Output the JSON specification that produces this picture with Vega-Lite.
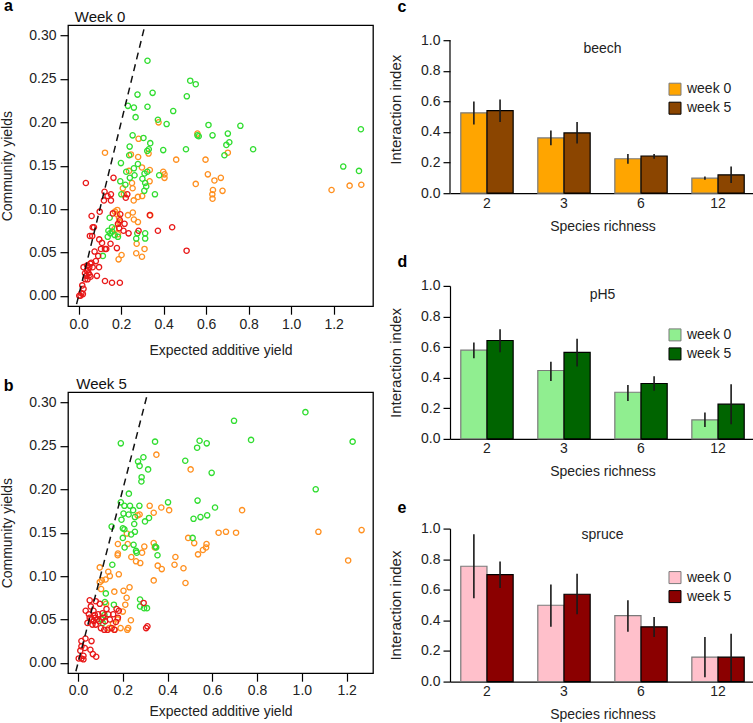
{
"$schema": "https://vega.github.io/schema/vega-lite/v6.json",
"padding": {"top": -2.8, "left": 0, "right": 0, "bottom": 0},
"background": "white",
"config": {
  "font": "Liberation Sans",
  "view": {"stroke": null},
  "axis": {"labelFont": "Liberation Sans", "titleFont": "Liberation Sans", "labelFontSize": 14, "titleFontSize": 14, "labelColor": "#222", "titleColor": "#222", "titleFontWeight": "normal", "grid": false, "domainColor": "#000", "tickColor": "#000", "domainWidth": 1.2, "tickWidth": 1.2, "labelOverlap": false, "tickCount": 12},
  "title": {"font": "Liberation Sans", "fontSize": 16, "fontWeight": "bold", "color": "#000", "anchor": "start", "frame": "bounds", "baseline": "alphabetic"},
  "legend": {"orient": "none", "legendX": 218, "legendY": 42, "title": null, "symbolType": "square", "symbolSize": 144, "labelFontSize": 14, "labelFont": "Liberation Sans", "labelColor": "#222", "rowPadding": 3, "labelOffset": 5, "symbolStrokeWidth": 1, "symbolStrokeColor": "#000"}
},
"datasets": {
  "week0": [
    {"substrate":"beech","expected":0.376,"community":0.200},{"substrate":"beech","expected":0.559,"community":0.187},{"substrate":"beech","expected":0.282,"community":0.181},{"substrate":"beech","expected":0.702,"community":0.165},{"substrate":"beech","expected":0.124,"community":0.165},{"substrate":"beech","expected":0.329,"community":0.164},{"substrate":"beech","expected":0.246,"community":0.163},{"substrate":"beech","expected":0.459,"community":0.157},{"substrate":"beech","expected":0.597,"community":0.157},{"substrate":"beech","expected":0.280,"community":0.160},{"substrate":"beech","expected":0.298,"community":0.148},{"substrate":"beech","expected":0.335,"community":0.145},{"substrate":"beech","expected":0.237,"community":0.144},{"substrate":"beech","expected":0.398,"community":0.143},{"substrate":"beech","expected":0.404,"community":0.140},{"substrate":"beech","expected":0.608,"community":0.140},{"substrate":"beech","expected":0.404,"community":0.136},{"substrate":"beech","expected":0.669,"community":0.136},{"substrate":"beech","expected":0.639,"community":0.133},{"substrate":"beech","expected":0.551,"community":0.129},{"substrate":"beech","expected":0.334,"community":0.132},{"substrate":"beech","expected":0.251,"community":0.130},{"substrate":"beech","expected":0.208,"community":0.124},{"substrate":"beech","expected":0.254,"community":0.124},{"substrate":"beech","expected":0.632,"community":0.122},{"substrate":"beech","expected":0.677,"community":0.121},{"substrate":"beech","expected":0.629,"community":0.117},{"substrate":"beech","expected":0.630,"community":0.112},{"substrate":"beech","expected":1.190,"community":0.122},{"substrate":"beech","expected":1.275,"community":0.127},{"substrate":"beech","expected":1.330,"community":0.128},{"substrate":"beech","expected":0.299,"community":0.115},{"substrate":"beech","expected":0.259,"community":0.110},{"substrate":"beech","expected":0.279,"community":0.114},{"substrate":"beech","expected":0.182,"community":0.099},{"substrate":"beech","expected":0.180,"community":0.094},{"substrate":"beech","expected":0.255,"community":0.096},{"substrate":"beech","expected":0.337,"community":0.093},{"substrate":"beech","expected":0.260,"community":0.088},{"substrate":"beech","expected":0.279,"community":0.085},{"substrate":"beech","expected":0.191,"community":0.085},{"substrate":"beech","expected":0.185,"community":0.071},{"substrate":"beech","expected":0.273,"community":0.060},{"substrate":"beech","expected":0.310,"community":0.054},{"substrate":"beech","expected":0.271,"community":0.049},{"substrate":"beech","expected":0.298,"community":0.045},{"substrate":"beech","expected":0.202,"community":0.047},{"substrate":"beech","expected":0.188,"community":0.042},{"substrate":"beech","expected":0.169,"community":0.077},{"substrate":"beech","expected":0.213,"community":0.117},{"substrate":"beech","expected":0.190,"community":0.090},{"substrate":"beech","expected":0.232,"community":0.093},{"substrate":"beech","expected":0.171,"community":0.097},
    {"substrate":"pH5","expected":0.324,"community":0.271},{"substrate":"pH5","expected":0.525,"community":0.248},{"substrate":"pH5","expected":0.551,"community":0.244},{"substrate":"pH5","expected":0.348,"community":0.234},{"substrate":"pH5","expected":0.277,"community":0.232},{"substrate":"pH5","expected":0.232,"community":0.219},{"substrate":"pH5","expected":0.260,"community":0.217},{"substrate":"pH5","expected":0.324,"community":0.218},{"substrate":"pH5","expected":0.445,"community":0.213},{"substrate":"pH5","expected":0.509,"community":0.230},{"substrate":"pH5","expected":0.268,"community":0.206},{"substrate":"pH5","expected":0.373,"community":0.203},{"substrate":"pH5","expected":0.414,"community":0.198},{"substrate":"pH5","expected":0.611,"community":0.197},{"substrate":"pH5","expected":0.761,"community":0.196},{"substrate":"pH5","expected":0.702,"community":0.187},{"substrate":"pH5","expected":0.630,"community":0.185},{"substrate":"pH5","expected":0.559,"community":0.185},{"substrate":"pH5","expected":0.565,"community":0.184},{"substrate":"pH5","expected":1.328,"community":0.192},{"substrate":"pH5","expected":0.254,"community":0.185},{"substrate":"pH5","expected":0.305,"community":0.182},{"substrate":"pH5","expected":0.709,"community":0.177},{"substrate":"pH5","expected":0.695,"community":0.174},{"substrate":"pH5","expected":0.337,"community":0.176},{"substrate":"pH5","expected":0.240,"community":0.172},{"substrate":"pH5","expected":0.398,"community":0.168},{"substrate":"pH5","expected":0.505,"community":0.169},{"substrate":"pH5","expected":0.821,"community":0.169},{"substrate":"pH5","expected":0.323,"community":0.167},{"substrate":"pH5","expected":0.330,"community":0.169},{"substrate":"pH5","expected":0.686,"community":0.162},{"substrate":"pH5","expected":0.238,"community":0.162},{"substrate":"pH5","expected":0.199,"community":0.153},{"substrate":"pH5","expected":0.279,"community":0.152},{"substrate":"pH5","expected":0.260,"community":0.147},{"substrate":"pH5","expected":1.245,"community":0.149},{"substrate":"pH5","expected":1.319,"community":0.144},{"substrate":"pH5","expected":0.224,"community":0.143},{"substrate":"pH5","expected":0.310,"community":0.141},{"substrate":"pH5","expected":0.323,"community":0.143},{"substrate":"pH5","expected":0.379,"community":0.139},{"substrate":"pH5","expected":0.196,"community":0.132},{"substrate":"pH5","expected":0.241,"community":0.136},{"substrate":"pH5","expected":0.263,"community":0.139},{"substrate":"pH5","expected":0.313,"community":0.130},{"substrate":"pH5","expected":0.309,"community":0.121},{"substrate":"pH5","expected":0.359,"community":0.117},{"substrate":"pH5","expected":0.201,"community":0.117},{"substrate":"pH5","expected":0.146,"community":0.090},{"substrate":"pH5","expected":0.157,"community":0.079},{"substrate":"pH5","expected":0.140,"community":0.075},{"substrate":"pH5","expected":0.148,"community":0.072},{"substrate":"pH5","expected":0.170,"community":0.070},{"substrate":"pH5","expected":0.137,"community":0.068},{"substrate":"pH5","expected":0.185,"community":0.068},{"substrate":"pH5","expected":0.158,"community":0.074},{"substrate":"pH5","expected":0.276,"community":0.072},{"substrate":"pH5","expected":0.313,"community":0.072},{"substrate":"pH5","expected":0.313,"community":0.066},{"substrate":"pH5","expected":0.271,"community":0.066},{"substrate":"pH5","expected":0.114,"community":0.046},{"substrate":"pH5","expected":0.300,"community":0.135},{"substrate":"pH5","expected":0.318,"community":0.126},{"substrate":"pH5","expected":0.220,"community":0.128},
    {"substrate":"spruce","expected":0.034,"community":0.130},{"substrate":"spruce","expected":0.164,"community":0.136},{"substrate":"spruce","expected":0.122,"community":0.120},{"substrate":"spruce","expected":0.152,"community":0.117},{"substrate":"spruce","expected":0.229,"community":0.117},{"substrate":"spruce","expected":0.222,"community":0.113},{"substrate":"spruce","expected":0.119,"community":0.110},{"substrate":"spruce","expected":0.152,"community":0.110},{"substrate":"spruce","expected":0.136,"community":0.115},{"substrate":"spruce","expected":0.099,"community":0.097},{"substrate":"spruce","expected":0.061,"community":0.092},{"substrate":"spruce","expected":0.161,"community":0.095},{"substrate":"spruce","expected":0.196,"community":0.094},{"substrate":"spruce","expected":0.335,"community":0.093},{"substrate":"spruce","expected":0.194,"community":0.087},{"substrate":"spruce","expected":0.066,"community":0.079},{"substrate":"spruce","expected":0.072,"community":0.079},{"substrate":"spruce","expected":0.053,"community":0.069},{"substrate":"spruce","expected":0.064,"community":0.069},{"substrate":"spruce","expected":0.185,"community":0.083},{"substrate":"spruce","expected":0.216,"community":0.083},{"substrate":"spruce","expected":0.211,"community":0.075},{"substrate":"spruce","expected":0.235,"community":0.072},{"substrate":"spruce","expected":0.282,"community":0.075},{"substrate":"spruce","expected":0.373,"community":0.075},{"substrate":"spruce","expected":0.440,"community":0.079},{"substrate":"spruce","expected":0.191,"community":0.078},{"substrate":"spruce","expected":0.097,"community":0.065},{"substrate":"spruce","expected":0.110,"community":0.061},{"substrate":"spruce","expected":0.105,"community":0.054},{"substrate":"spruce","expected":0.130,"community":0.054},{"substrate":"spruce","expected":0.180,"community":0.055},{"substrate":"spruce","expected":0.150,"community":0.060},{"substrate":"spruce","expected":0.508,"community":0.052},{"substrate":"spruce","expected":0.075,"community":0.051},{"substrate":"spruce","expected":0.092,"community":0.046},{"substrate":"spruce","expected":0.124,"community":0.054},{"substrate":"spruce","expected":0.081,"community":0.040},{"substrate":"spruce","expected":0.060,"community":0.038},{"substrate":"spruce","expected":0.050,"community":0.033},{"substrate":"spruce","expected":0.066,"community":0.033},{"substrate":"spruce","expected":0.096,"community":0.033},{"substrate":"spruce","expected":0.023,"community":0.033},{"substrate":"spruce","expected":0.039,"community":0.029},{"substrate":"spruce","expected":0.030,"community":0.026},{"substrate":"spruce","expected":0.047,"community":0.026},{"substrate":"spruce","expected":0.056,"community":0.022},{"substrate":"spruce","expected":0.086,"community":0.023},{"substrate":"spruce","expected":0.042,"community":0.019},{"substrate":"spruce","expected":0.124,"community":0.017},{"substrate":"spruce","expected":0.157,"community":0.015},{"substrate":"spruce","expected":0.194,"community":0.015},{"substrate":"spruce","expected":0.017,"community":0.012},{"substrate":"spruce","expected":0.023,"community":0.008},{"substrate":"spruce","expected":0.013,"community":0.003},{"substrate":"spruce","expected":0.003,"community":0.000},{"substrate":"spruce","expected":0.009,"community":0.000},{"substrate":"spruce","expected":0.020,"community":0.002},{"substrate":"spruce","expected":0.031,"community":0.019},{"substrate":"spruce","expected":0.055,"community":0.037},{"substrate":"spruce","expected":0.036,"community":0.023},{"substrate":"spruce","expected":0.045,"community":0.030},{"substrate":"spruce","expected":0.052,"community":0.024},{"substrate":"spruce","expected":0.040,"community":0.035}
  ],
  "week5": [
    {"substrate":"beech","expected":0.350,"community":0.240},{"substrate":"beech","expected":0.503,"community":0.223},{"substrate":"beech","expected":0.733,"community":0.176},{"substrate":"beech","expected":0.320,"community":0.181},{"substrate":"beech","expected":0.372,"community":0.179},{"substrate":"beech","expected":0.407,"community":0.176},{"substrate":"beech","expected":0.338,"community":0.173},{"substrate":"beech","expected":0.275,"community":0.171},{"substrate":"beech","expected":0.266,"community":0.170},{"substrate":"beech","expected":1.267,"community":0.153},{"substrate":"beech","expected":1.074,"community":0.151},{"substrate":"beech","expected":0.628,"community":0.150},{"substrate":"beech","expected":0.661,"community":0.151},{"substrate":"beech","expected":0.706,"community":0.150},{"substrate":"beech","expected":0.218,"community":0.149},{"substrate":"beech","expected":0.492,"community":0.144},{"substrate":"beech","expected":0.519,"community":0.138},{"substrate":"beech","expected":0.574,"community":0.137},{"substrate":"beech","expected":0.572,"community":0.133},{"substrate":"beech","expected":0.558,"community":0.130},{"substrate":"beech","expected":0.536,"community":0.125},{"substrate":"beech","expected":0.178,"community":0.137},{"substrate":"beech","expected":0.222,"community":0.137},{"substrate":"beech","expected":0.338,"community":0.138},{"substrate":"beech","expected":0.343,"community":0.133},{"substrate":"beech","expected":0.296,"community":0.134},{"substrate":"beech","expected":0.286,"community":0.127},{"substrate":"beech","expected":0.178,"community":0.126},{"substrate":"beech","expected":0.177,"community":0.124},{"substrate":"beech","expected":0.238,"community":0.122},{"substrate":"beech","expected":0.435,"community":0.122},{"substrate":"beech","expected":1.207,"community":0.118},{"substrate":"beech","expected":0.259,"community":0.117},{"substrate":"beech","expected":0.278,"community":0.115},{"substrate":"beech","expected":0.356,"community":0.112},{"substrate":"beech","expected":0.431,"community":0.113},{"substrate":"beech","expected":0.374,"community":0.108},{"substrate":"beech","expected":0.471,"community":0.109},{"substrate":"beech","expected":0.338,"community":0.095},{"substrate":"beech","expected":0.480,"community":0.092},{"substrate":"beech","expected":0.097,"community":0.110},{"substrate":"beech","expected":0.135,"community":0.105},{"substrate":"beech","expected":0.142,"community":0.100},{"substrate":"beech","expected":0.106,"community":0.095},{"substrate":"beech","expected":0.097,"community":0.093},{"substrate":"beech","expected":0.182,"community":0.102},{"substrate":"beech","expected":0.123,"community":0.096},{"substrate":"beech","expected":0.103,"community":0.085},{"substrate":"beech","expected":0.162,"community":0.082},{"substrate":"beech","expected":0.203,"community":0.083},{"substrate":"beech","expected":0.230,"community":0.087},{"substrate":"beech","expected":0.217,"community":0.075},{"substrate":"beech","expected":0.211,"community":0.067},{"substrate":"beech","expected":0.236,"community":0.049},{"substrate":"beech","expected":0.224,"community":0.040},{"substrate":"beech","expected":0.220,"community":0.038},{"substrate":"beech","expected":0.190,"community":0.040},{"substrate":"beech","expected":0.162,"community":0.038},{"substrate":"beech","expected":0.139,"community":0.040},{"substrate":"beech","expected":0.156,"community":0.045},{"substrate":"beech","expected":0.177,"community":0.050},{"substrate":"beech","expected":0.125,"community":0.068},{"substrate":"beech","expected":0.200,"community":0.059},
    {"substrate":"pH5","expected":1.016,"community":0.289},{"substrate":"pH5","expected":0.697,"community":0.279},{"substrate":"pH5","expected":0.773,"community":0.257},{"substrate":"pH5","expected":1.227,"community":0.255},{"substrate":"pH5","expected":0.191,"community":0.253},{"substrate":"pH5","expected":0.344,"community":0.255},{"substrate":"pH5","expected":0.543,"community":0.256},{"substrate":"pH5","expected":0.532,"community":0.248},{"substrate":"pH5","expected":0.575,"community":0.253},{"substrate":"pH5","expected":0.479,"community":0.233},{"substrate":"pH5","expected":0.292,"community":0.237},{"substrate":"pH5","expected":0.268,"community":0.232},{"substrate":"pH5","expected":0.275,"community":0.227},{"substrate":"pH5","expected":0.313,"community":0.223},{"substrate":"pH5","expected":0.284,"community":0.214},{"substrate":"pH5","expected":0.283,"community":0.209},{"substrate":"pH5","expected":0.597,"community":0.219},{"substrate":"pH5","expected":1.062,"community":0.200},{"substrate":"pH5","expected":0.227,"community":0.195},{"substrate":"pH5","expected":0.191,"community":0.185},{"substrate":"pH5","expected":0.402,"community":0.185},{"substrate":"pH5","expected":0.534,"community":0.187},{"substrate":"pH5","expected":0.207,"community":0.181},{"substrate":"pH5","expected":0.232,"community":0.181},{"substrate":"pH5","expected":0.274,"community":0.181},{"substrate":"pH5","expected":0.246,"community":0.176},{"substrate":"pH5","expected":0.226,"community":0.171},{"substrate":"pH5","expected":0.254,"community":0.168},{"substrate":"pH5","expected":0.612,"community":0.179},{"substrate":"pH5","expected":0.516,"community":0.166},{"substrate":"pH5","expected":0.547,"community":0.168},{"substrate":"pH5","expected":0.577,"community":0.170},{"substrate":"pH5","expected":0.203,"community":0.172},{"substrate":"pH5","expected":0.194,"community":0.165},{"substrate":"pH5","expected":0.317,"community":0.167},{"substrate":"pH5","expected":0.299,"community":0.163},{"substrate":"pH5","expected":0.251,"community":0.160},{"substrate":"pH5","expected":0.150,"community":0.157},{"substrate":"pH5","expected":0.200,"community":0.155},{"substrate":"pH5","expected":0.207,"community":0.154},{"substrate":"pH5","expected":0.254,"community":0.151},{"substrate":"pH5","expected":0.237,"community":0.148},{"substrate":"pH5","expected":0.200,"community":0.144},{"substrate":"pH5","expected":0.208,"community":0.133},{"substrate":"pH5","expected":0.248,"community":0.136},{"substrate":"pH5","expected":0.349,"community":0.133},{"substrate":"pH5","expected":0.512,"community":0.144},{"substrate":"pH5","expected":0.355,"community":0.124},{"substrate":"pH5","expected":0.259,"community":0.129},{"substrate":"pH5","expected":0.153,"community":0.113},{"substrate":"pH5","expected":0.124,"community":0.080},{"substrate":"pH5","expected":0.160,"community":0.067},{"substrate":"pH5","expected":0.277,"community":0.073},{"substrate":"pH5","expected":0.277,"community":0.065},{"substrate":"pH5","expected":0.308,"community":0.063},{"substrate":"pH5","expected":0.295,"community":0.063},{"substrate":"pH5","expected":0.105,"community":0.050},{"substrate":"pH5","expected":0.110,"community":0.046},{"substrate":"pH5","expected":0.118,"community":0.055},{"substrate":"pH5","expected":0.120,"community":0.070},{"substrate":"pH5","expected":0.345,"community":0.134},{"substrate":"pH5","expected":0.262,"community":0.127},
    {"substrate":"spruce","expected":0.293,"community":0.069},{"substrate":"spruce","expected":0.052,"community":0.072},{"substrate":"spruce","expected":0.079,"community":0.071},{"substrate":"spruce","expected":0.057,"community":0.065},{"substrate":"spruce","expected":0.034,"community":0.060},{"substrate":"spruce","expected":0.048,"community":0.056},{"substrate":"spruce","expected":0.069,"community":0.060},{"substrate":"spruce","expected":0.076,"community":0.052},{"substrate":"spruce","expected":0.042,"community":0.046},{"substrate":"spruce","expected":0.052,"community":0.052},{"substrate":"spruce","expected":0.090,"community":0.056},{"substrate":"spruce","expected":0.109,"community":0.057},{"substrate":"spruce","expected":0.121,"community":0.048},{"substrate":"spruce","expected":0.102,"community":0.040},{"substrate":"spruce","expected":0.117,"community":0.038},{"substrate":"spruce","expected":0.132,"community":0.038},{"substrate":"spruce","expected":0.150,"community":0.040},{"substrate":"spruce","expected":0.079,"community":0.044},{"substrate":"spruce","expected":0.064,"community":0.044},{"substrate":"spruce","expected":0.172,"community":0.062},{"substrate":"spruce","expected":0.182,"community":0.060},{"substrate":"spruce","expected":0.157,"community":0.056},{"substrate":"spruce","expected":0.178,"community":0.052},{"substrate":"spruce","expected":0.135,"community":0.056},{"substrate":"spruce","expected":0.142,"community":0.050},{"substrate":"spruce","expected":0.169,"community":0.047},{"substrate":"spruce","expected":0.163,"community":0.038},{"substrate":"spruce","expected":0.304,"community":0.040},{"substrate":"spruce","expected":0.310,"community":0.042},{"substrate":"spruce","expected":0.075,"community":0.055},{"substrate":"spruce","expected":0.015,"community":0.025},{"substrate":"spruce","expected":0.033,"community":0.028},{"substrate":"spruce","expected":0.015,"community":0.019},{"substrate":"spruce","expected":0.030,"community":0.017},{"substrate":"spruce","expected":0.060,"community":0.025},{"substrate":"spruce","expected":0.055,"community":0.015},{"substrate":"spruce","expected":0.066,"community":0.010},{"substrate":"spruce","expected":0.081,"community":0.007},{"substrate":"spruce","expected":0.024,"community":0.008},{"substrate":"spruce","expected":0.003,"community":0.005},{"substrate":"spruce","expected":0.015,"community":0.005},{"substrate":"spruce","expected":0.024,"community":0.004},{"substrate":"spruce","expected":0.010,"community":0.014},{"substrate":"spruce","expected":0.097,"community":0.068},{"substrate":"spruce","expected":0.127,"community":0.062},{"substrate":"spruce","expected":0.085,"community":0.050},{"substrate":"spruce","expected":0.095,"community":0.048},{"substrate":"spruce","expected":0.070,"community":0.048},{"substrate":"spruce","expected":0.112,"community":0.052},{"substrate":"spruce","expected":0.060,"community":0.050}
  ],
  "beech": [
    {"richness":2,"week":"week 0","mean":0.525,"lo":0.449,"hi":0.600},{"richness":2,"week":"week 5","mean":0.540,"lo":0.466,"hi":0.613},
    {"richness":3,"week":"week 0","mean":0.361,"lo":0.313,"hi":0.410},{"richness":3,"week":"week 5","mean":0.394,"lo":0.324,"hi":0.466},
    {"richness":6,"week":"week 0","mean":0.225,"lo":0.193,"hi":0.256},{"richness":6,"week":"week 5","mean":0.243,"lo":0.225,"hi":0.256},
    {"richness":12,"week":"week 0","mean":0.098,"lo":0.088,"hi":0.109},{"richness":12,"week":"week 5","mean":0.120,"lo":0.066,"hi":0.175}
  ],
  "ph5": [
    {"richness":2,"week":"week 0","mean":0.580,"lo":0.527,"hi":0.630},{"richness":2,"week":"week 5","mean":0.643,"lo":0.566,"hi":0.717},
    {"richness":3,"week":"week 0","mean":0.447,"lo":0.379,"hi":0.505},{"richness":3,"week":"week 5","mean":0.566,"lo":0.473,"hi":0.654},
    {"richness":6,"week":"week 0","mean":0.305,"lo":0.248,"hi":0.353},{"richness":6,"week":"week 5","mean":0.362,"lo":0.314,"hi":0.410},
    {"richness":12,"week":"week 0","mean":0.124,"lo":0.078,"hi":0.172},{"richness":12,"week":"week 5","mean":0.227,"lo":0.096,"hi":0.357}
  ],
  "spruce": [
    {"richness":2,"week":"week 0","mean":0.754,"lo":0.545,"hi":0.963},{"richness":2,"week":"week 5","mean":0.699,"lo":0.611,"hi":0.785},
    {"richness":3,"week":"week 0","mean":0.499,"lo":0.358,"hi":0.635},{"richness":3,"week":"week 5","mean":0.571,"lo":0.440,"hi":0.705},
    {"richness":6,"week":"week 0","mean":0.431,"lo":0.325,"hi":0.532},{"richness":6,"week":"week 5","mean":0.358,"lo":0.292,"hi":0.422},
    {"richness":12,"week":"week 0","mean":0.160,"lo":0.029,"hi":0.292},{"richness":12,"week":"week 5","mean":0.160,"lo":0.004,"hi":0.312}
  ]
},
"columns": 2,
"align": "none",
"spacing": 14,
"resolve": {"scale": {"x": "independent", "y": "independent", "color": "independent", "stroke": "independent", "xOffset": "independent"}, "legend": {"color": "independent", "stroke": "independent"}, "axis": {"x": "independent", "y": "independent"}},
"concat": [
  {
    "vconcat": [
      {
        "width": 305, "height": 281,
        "view": {"stroke": "#000", "strokeWidth": 1.3},
        "layer": [
          {"data": {"name": "week0"}, "mark": {"type": "point", "shape": "circle", "filled": false, "size": 28, "strokeWidth": 1.3, "opacity": 1},
           "encoding": {
             "x": {"field": "expected", "type": "quantitative", "scale": {"domain": [-0.05, 1.385], "nice": false, "zero": false}, "axis": {"title": "Expected additive yield", "values": [0, 0.2, 0.4, 0.6, 0.8, 1, 1.2], "format": ".1f", "domain": false, "tickSize": 8, "labelPadding": 3, "titlePadding": 12}},
             "y": {"field": "community", "type": "quantitative", "scale": {"domain": [-0.012, 0.312], "nice": false, "zero": false}, "axis": {"title": "Community yields", "values": [0, 0.05, 0.1, 0.15, 0.2, 0.25, 0.3], "format": ".2f", "domain": false, "tickSize": 8, "labelPadding": 4, "titlePadding": 14}},
             "color": {"field": "substrate", "type": "nominal", "scale": {"domain": ["beech", "pH5", "spruce"], "range": ["#ff9020", "#30dd30", "#e81818"]}, "legend": null}
           }},
          {"data": {"values": [{"expected": -0.05, "community": -0.05}, {"expected": 0.4, "community": 0.4}]},
           "mark": {"type": "line", "clip": true, "color": "#111", "strokeDash": [7, 5], "strokeWidth": 1.5},
           "encoding": {"x": {"field": "expected", "type": "quantitative"}, "y": {"field": "community", "type": "quantitative"}}},
          {"data": {"values": [{"label": "Week 0"}]},
           "mark": {"type": "text", "align": "left", "baseline": "alphabetic", "fontSize": 15, "dy": -3, "color": "#111"},
           "encoding": {"x": {"datum": -0.018, "type": "quantitative"}, "y": {"datum": 0.312, "type": "quantitative"}, "text": {"field": "label"}}},
          {"data": {"values": [{"label": "a"}]},
           "mark": {"type": "text", "align": "left", "baseline": "alphabetic", "fontSize": 16, "fontWeight": "bold", "color": "#000"},
           "encoding": {"x": {"datum": -0.351, "type": "quantitative"}, "y": {"datum": 0.3282, "type": "quantitative"}, "text": {"field": "label"}}}
        ]
      },
      {
        "width": 305, "height": 281,
        "view": {"stroke": "#000", "strokeWidth": 1.3},
        "layer": [
          {"data": {"name": "week5"}, "mark": {"type": "point", "shape": "circle", "filled": false, "size": 28, "strokeWidth": 1.3, "opacity": 1},
           "encoding": {
             "x": {"field": "expected", "type": "quantitative", "scale": {"domain": [-0.045, 1.318], "nice": false, "zero": false}, "axis": {"title": "Expected additive yield", "values": [0, 0.2, 0.4, 0.6, 0.8, 1, 1.2], "format": ".1f", "domain": false, "tickSize": 8, "labelPadding": 2, "titlePadding": 7}},
             "y": {"field": "community", "type": "quantitative", "scale": {"domain": [-0.012, 0.312], "nice": false, "zero": false}, "axis": {"title": "Community yields", "values": [0, 0.05, 0.1, 0.15, 0.2, 0.25, 0.3], "format": ".2f", "domain": false, "tickSize": 8, "labelPadding": 4, "titlePadding": 14}},
             "color": {"field": "substrate", "type": "nominal", "scale": {"domain": ["beech", "pH5", "spruce"], "range": ["#ff9020", "#30dd30", "#e81818"]}, "legend": null}
           }},
          {"data": {"values": [{"expected": -0.05, "community": -0.05}, {"expected": 0.4, "community": 0.4}]},
           "mark": {"type": "line", "clip": true, "color": "#111", "strokeDash": [7, 5], "strokeWidth": 1.5},
           "encoding": {"x": {"field": "expected", "type": "quantitative"}, "y": {"field": "community", "type": "quantitative"}}},
          {"data": {"values": [{"label": "Week 5"}]},
           "mark": {"type": "text", "align": "left", "baseline": "alphabetic", "fontSize": 15, "dy": -3, "color": "#111"},
           "encoding": {"x": {"datum": -0.008, "type": "quantitative"}, "y": {"datum": 0.312, "type": "quantitative"}, "text": {"field": "label"}}},
          {"data": {"values": [{"label": "b"}]},
           "mark": {"type": "text", "align": "left", "baseline": "alphabetic", "fontSize": 16, "fontWeight": "bold", "color": "#000"},
           "encoding": {"x": {"datum": -0.332, "type": "quantitative"}, "y": {"datum": 0.3132, "type": "quantitative"}, "text": {"field": "label"}}}
        ]
      }
    ],
    "spacing": 18,
    "resolve": {"scale": {"x": "independent", "y": "independent", "color": "independent"}, "axis": {"x": "independent", "y": "independent"}}
  },
  {
    "vconcat": [
      {
        "width": 305, "height": 168,
        "title": {"text": "c", "offset": 10.5, "dx": 9},
        "data": {"name": "beech"},
        "layer": [
          {"mark": {"type": "bar", "strokeWidth": 1.2},
           "encoding": {
             "x": {"field": "richness", "type": "ordinal", "scale": {"paddingInner": 0.32, "paddingOuter": 0.14}, "axis": {"title": "Species richness", "labelAngle": 0, "ticks": false, "tickSize": 0, "domain": true, "labelPadding": 3, "titlePadding": 9}},
             "xOffset": {"field": "week", "type": "nominal", "scale": {"paddingInner": 0, "paddingOuter": 0}},
             "y": {"field": "mean", "type": "quantitative", "scale": {"domain": [0, 1.098], "nice": false}, "axis": {"title": "Interaction index", "titleFontSize": 15, "values": [0, 0.2, 0.4, 0.6, 0.8, 1], "tickCount": 12, "format": ".1f", "tickSize": 7, "labelPadding": 3, "titlePadding": 17, "domain": false}},
             "color": {"field": "week", "type": "nominal", "scale": {"domain": ["week 0", "week 5"], "range": ["#FFA500", "#8B4500"]}, "legend": {"legendY": 57, "encode": {"symbols": {"update": {"stroke": {"value": "#000"}, "strokeWidth": {"value": 1}}}}}},
             "stroke": {"field": "week", "type": "nominal", "scale": {"domain": ["week 0", "week 5"], "range": ["#7a7a7a", "#000000"]}, "legend": null}
           }},
          {"mark": {"type": "rule", "color": "#1a1a1a", "strokeWidth": 1.6},
           "encoding": {"x": {"field": "richness", "type": "ordinal"}, "xOffset": {"field": "week", "type": "nominal"}, "y": {"field": "lo", "type": "quantitative"}, "y2": {"field": "hi"}}},
          {"data": {"values": [{"axis_from": 0, "axis_to": 1}]},
           "mark": {"type": "rule", "color": "#000", "strokeWidth": 1.2},
           "encoding": {"x": {"datum": 2, "type": "ordinal", "bandPosition": -0.2059}, "y": {"field": "axis_from", "type": "quantitative"}, "y2": {"field": "axis_to"}}},
          {"data": {"values": [{"label": "beech"}]},
           "mark": {"type": "text", "fontSize": 14, "align": "center", "baseline": "alphabetic", "color": "#222"},
           "encoding": {"x": {"datum": 3, "type": "ordinal", "bandPosition": 1.235}, "y": {"datum": 0.915, "type": "quantitative"}, "text": {"field": "label"}}}
        ]
      },
      {
        "width": 305, "height": 153,
        "title": {"text": "d", "offset": 9, "dx": 9},
        "data": {"name": "ph5"},
        "layer": [
          {"mark": {"type": "bar", "strokeWidth": 1.2},
           "encoding": {
             "x": {"field": "richness", "type": "ordinal", "scale": {"paddingInner": 0.32, "paddingOuter": 0.14}, "axis": {"title": "Species richness", "labelAngle": 0, "ticks": false, "tickSize": 0, "domain": true, "labelPadding": 3, "titlePadding": 9}},
             "xOffset": {"field": "week", "type": "nominal", "scale": {"paddingInner": 0, "paddingOuter": 0}},
             "y": {"field": "mean", "type": "quantitative", "scale": {"domain": [0, 1], "nice": false}, "axis": {"title": "Interaction index", "titleFontSize": 15, "values": [0, 0.2, 0.4, 0.6, 0.8, 1], "tickCount": 12, "format": ".1f", "tickSize": 7, "labelPadding": 3, "titlePadding": 17}},
             "color": {"field": "week", "type": "nominal", "scale": {"domain": ["week 0", "week 5"], "range": ["#90EE90", "#006400"]}, "legend": {"encode": {"symbols": {"update": {"stroke": {"value": "#000"}, "strokeWidth": {"value": 1}}}}}},
             "stroke": {"field": "week", "type": "nominal", "scale": {"domain": ["week 0", "week 5"], "range": ["#7a7a7a", "#000000"]}, "legend": null}
           }},
          {"mark": {"type": "rule", "color": "#1a1a1a", "strokeWidth": 1.6},
           "encoding": {"x": {"field": "richness", "type": "ordinal"}, "xOffset": {"field": "week", "type": "nominal"}, "y": {"field": "lo", "type": "quantitative"}, "y2": {"field": "hi"}}},
          {"data": {"values": [{"label": "pH5"}]},
           "mark": {"type": "text", "fontSize": 14, "align": "center", "baseline": "alphabetic", "color": "#222"},
           "encoding": {"x": {"datum": 3, "type": "ordinal", "bandPosition": 1.235}, "y": {"datum": 0.915, "type": "quantitative"}, "text": {"field": "label"}}}
        ]
      },
      {
        "width": 305, "height": 153,
        "title": {"text": "e", "offset": 5.5, "dx": 9},
        "data": {"name": "spruce"},
        "layer": [
          {"mark": {"type": "bar", "strokeWidth": 1.2},
           "encoding": {
             "x": {"field": "richness", "type": "ordinal", "scale": {"paddingInner": 0.32, "paddingOuter": 0.14}, "axis": {"title": "Species richness", "labelAngle": 0, "ticks": false, "tickSize": 0, "domain": true, "labelPadding": 3, "titlePadding": 9}},
             "xOffset": {"field": "week", "type": "nominal", "scale": {"paddingInner": 0, "paddingOuter": 0}},
             "y": {"field": "mean", "type": "quantitative", "scale": {"domain": [0, 1], "nice": false}, "axis": {"title": "Interaction index", "titleFontSize": 15, "values": [0, 0.2, 0.4, 0.6, 0.8, 1], "tickCount": 12, "format": ".1f", "tickSize": 7, "labelPadding": 3, "titlePadding": 17}},
             "color": {"field": "week", "type": "nominal", "scale": {"domain": ["week 0", "week 5"], "range": ["#FFC0CB", "#8B0000"]}, "legend": {"encode": {"symbols": {"update": {"stroke": {"value": "#000"}, "strokeWidth": {"value": 1}}}}}},
             "stroke": {"field": "week", "type": "nominal", "scale": {"domain": ["week 0", "week 5"], "range": ["#7a7a7a", "#000000"]}, "legend": null}
           }},
          {"mark": {"type": "rule", "color": "#1a1a1a", "strokeWidth": 1.6},
           "encoding": {"x": {"field": "richness", "type": "ordinal"}, "xOffset": {"field": "week", "type": "nominal"}, "y": {"field": "lo", "type": "quantitative"}, "y2": {"field": "hi"}}},
          {"data": {"values": [{"label": "spruce"}]},
           "mark": {"type": "text", "fontSize": 14, "align": "center", "baseline": "alphabetic", "color": "#222"},
           "encoding": {"x": {"datum": 3, "type": "ordinal", "bandPosition": 1.235}, "y": {"datum": 0.93, "type": "quantitative"}, "text": {"field": "label"}}}
        ]
      }
    ],
    "spacing": 20.7,
    "resolve": {"scale": {"x": "independent", "y": "independent", "color": "independent", "stroke": "independent", "xOffset": "independent"}, "legend": {"color": "independent", "stroke": "independent"}, "axis": {"x": "independent", "y": "independent"}}
  }
]
}
